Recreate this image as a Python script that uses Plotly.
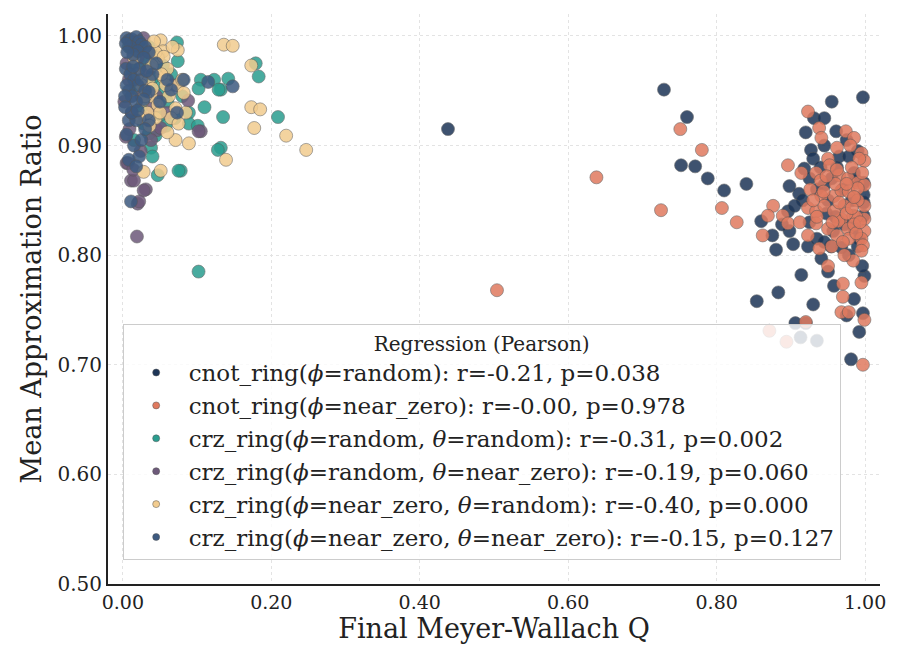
import plotly.graph_objects as go

# ---------------- data ----------------
names = [
    "cnot_ring(<i>ϕ</i>=random): r=-0.21, p=0.038",
    "cnot_ring(<i>ϕ</i>=near_zero): r=-0.00, p=0.978",
    "crz_ring(<i>ϕ</i>=random, <i>θ</i>=random): r=-0.31, p=0.002",
    "crz_ring(<i>ϕ</i>=random, <i>θ</i>=near_zero): r=-0.19, p=0.060",
    "crz_ring(<i>ϕ</i>=near_zero, <i>θ</i>=random): r=-0.40, p=0.000",
    "crz_ring(<i>ϕ</i>=near_zero, <i>θ</i>=near_zero): r=-0.15, p=0.127",
]
colors = ["#1d3557", "#e07a5f", "#2a9d8f", "#6d597a", "#f2cc8f", "#3d5a80"]

cnot_random_q = [0.438, 0.729, 0.760, 0.752, 0.771, 0.788, 0.810, 0.840, 0.997, 0.931,
                 0.961, 0.927, 0.930, 0.918, 0.945, 0.985, 0.998, 0.998, 0.998, 0.898,
                 0.911, 0.916, 0.860, 0.896, 0.898, 0.903, 0.923, 0.954, 0.968, 0.941,
                 0.914, 0.883, 0.854, 0.930, 0.906, 0.920, 0.999, 0.997, 0.958, 0.978,
                 0.981, 0.913, 0.935, 0.955, 0.945, 0.965, 0.975, 0.990, 0.950, 0.960,
                 0.985, 0.992, 0.970, 0.940, 0.905, 0.925, 0.996, 0.985, 0.975, 0.950,
                 0.992, 0.888, 0.875, 0.880, 0.935, 0.998, 0.982, 0.945, 0.920, 0.955,
                 0.962, 0.948, 0.972, 0.935, 0.988, 0.957, 0.925, 0.978, 0.990, 0.945]
cnot_random_r = [0.915, 0.951, 0.926, 0.882, 0.881, 0.870, 0.859, 0.865, 0.944, 0.925,
                 0.913, 0.896, 0.888, 0.879, 0.864, 0.875, 0.866, 0.848, 0.836, 0.863,
                 0.856, 0.850, 0.831, 0.840, 0.822, 0.810, 0.808, 0.808, 0.807, 0.797,
                 0.782, 0.766, 0.758, 0.755, 0.738, 0.738, 0.781, 0.747, 0.772, 0.800,
                 0.705, 0.725, 0.722, 0.940, 0.925, 0.890, 0.905, 0.895, 0.850, 0.835,
                 0.825, 0.815, 0.860, 0.880, 0.845, 0.870, 0.790, 0.760, 0.745, 0.785,
                 0.730, 0.828, 0.818, 0.805, 0.815, 0.855, 0.850, 0.900, 0.912, 0.870,
                 0.880, 0.838, 0.828, 0.860, 0.868, 0.822, 0.830, 0.890, 0.808, 0.812]

cnot_nz_q = [0.504, 0.638, 0.725, 0.751, 0.780, 0.807, 0.827, 0.923, 0.938, 0.941,
             0.974, 0.985, 0.896, 0.914, 0.934, 0.950, 0.952, 0.965, 0.995, 0.999,
             0.992, 0.977, 0.990, 0.999, 0.941, 0.958, 0.968, 0.978, 0.990, 0.876,
             0.869, 0.889, 0.896, 0.923, 0.934, 0.972, 0.999, 0.968, 0.984, 0.999,
             0.934, 0.950, 0.964, 0.977, 0.988, 0.999, 0.978, 0.995, 0.997, 0.995,
             0.923, 0.938, 0.862, 0.984, 0.950, 0.970, 0.995, 0.970, 0.968, 0.978,
             0.999, 0.920, 0.871, 0.894, 0.997, 0.960, 0.982, 0.945, 0.958, 0.975,
             0.990, 0.962, 0.985, 0.955, 0.972, 0.940, 0.926, 0.996, 0.980, 0.962,
             0.930, 0.912, 0.948, 0.965, 0.982, 0.956, 0.970, 0.988, 0.944, 0.975,
             0.962, 0.993, 0.935, 0.985]
cnot_nz_r = [0.768, 0.871, 0.841, 0.915, 0.896, 0.843, 0.830, 0.931, 0.916, 0.907,
             0.913, 0.907, 0.882, 0.875, 0.875, 0.888, 0.882, 0.873, 0.893, 0.886,
             0.888, 0.870, 0.866, 0.864, 0.854, 0.854, 0.859, 0.858, 0.861, 0.845,
             0.836, 0.836, 0.829, 0.843, 0.840, 0.845, 0.845, 0.833, 0.836, 0.833,
             0.829, 0.824, 0.831, 0.824, 0.835, 0.822, 0.815, 0.815, 0.809, 0.804,
             0.818, 0.806, 0.818, 0.795, 0.790, 0.774, 0.775, 0.762, 0.748, 0.748,
             0.741, 0.739, 0.731, 0.721, 0.700, 0.865, 0.880, 0.845, 0.840, 0.838,
             0.850, 0.818, 0.828, 0.808, 0.800, 0.868, 0.860, 0.875, 0.900, 0.898,
             0.850, 0.830, 0.872, 0.848, 0.843, 0.830, 0.812, 0.820, 0.858, 0.865,
             0.878, 0.830, 0.835, 0.853]

crz_rr_q = [0.102, 0.078, 0.179, 0.183, 0.142, 0.132, 0.135, 0.209, 0.132, 0.073,
            0.074, 0.054, 0.105, 0.123, 0.129, 0.102, 0.089, 0.089, 0.101, 0.038,
            0.040, 0.047, 0.075, 0.128, 0.044, 0.028, 0.051, 0.018, 0.035, 0.058,
            0.060, 0.045, 0.030, 0.020, 0.065, 0.040, 0.055, 0.012, 0.025, 0.070,
            0.015, 0.080, 0.035, 0.048, 0.008, 0.110]
crz_rr_r = [0.785, 0.877, 0.975, 0.963, 0.961, 0.951, 0.926, 0.926, 0.898, 0.994,
            0.977, 0.973, 0.960, 0.960, 0.951, 0.952, 0.930, 0.920, 0.918, 0.898,
            0.890, 0.873, 0.877, 0.896, 0.909, 0.920, 0.928, 0.952, 0.911, 0.918,
            0.940, 0.955, 0.975, 0.985, 0.965, 0.962, 0.948, 0.970, 0.935, 0.925,
            0.905, 0.945, 0.990, 0.982, 0.990, 0.935]

crz_rnz_q = [0.019, 0.031, 0.020, 0.011, 0.005, 0.004, 0.046, 0.105, 0.015, 0.028,
             0.022, 0.007, 0.051, 0.102, 0.088, 0.067, 0.034, 0.010, 0.015, 0.020,
             0.008, 0.025, 0.012, 0.030, 0.040, 0.005, 0.018, 0.035, 0.045, 0.060,
             0.009, 0.024, 0.014, 0.002, 0.028, 0.038]
crz_rnz_r = [0.817, 0.860, 0.847, 0.868, 0.884, 0.908, 0.914, 0.913, 0.868, 0.859,
             0.849, 0.884, 0.916, 0.913, 0.941, 0.955, 0.968, 0.995, 0.990, 0.980,
             0.960, 0.945, 0.930, 0.925, 0.935, 0.975, 0.965, 0.985, 0.945, 0.930,
             0.915, 0.895, 0.878, 0.940, 0.998, 0.905]

crz_nzr_q = [0.136, 0.148, 0.173, 0.173, 0.185, 0.177, 0.220, 0.247, 0.139, 0.051,
             0.074, 0.054, 0.047, 0.055, 0.074, 0.082, 0.038, 0.047, 0.071, 0.027,
             0.044, 0.065, 0.071, 0.089, 0.028, 0.051, 0.075, 0.044, 0.055, 0.039,
             0.030, 0.035, 0.060, 0.025, 0.040, 0.062, 0.050, 0.033, 0.020, 0.067,
             0.058, 0.036, 0.022, 0.060, 0.085, 0.015, 0.042, 0.030, 0.052, 0.080]
crz_nzr_r = [0.992, 0.991, 0.973, 0.935, 0.933, 0.916, 0.909, 0.896, 0.887, 0.996,
             0.987, 0.986, 0.980, 0.962, 0.955, 0.948, 0.945, 0.937, 0.934, 0.941,
             0.925, 0.925, 0.905, 0.902, 0.876, 0.877, 0.920, 0.985, 0.981, 0.973,
             0.990, 0.960, 0.970, 0.955, 0.952, 0.945, 0.930, 0.930, 0.965, 0.990,
             0.955, 0.918, 0.925, 0.912, 0.930, 0.980, 0.995, 0.945, 0.965, 0.960]

crz_nznz_q = [0.005, 0.008, 0.012, 0.015, 0.018, 0.022, 0.025, 0.010, 0.004, 0.030,
              0.020, 0.035, 0.014, 0.028, 0.006, 0.004, 0.010, 0.015, 0.020, 0.008,
              0.025, 0.030, 0.012, 0.018, 0.005, 0.022, 0.035, 0.028, 0.003, 0.014,
              0.040, 0.045, 0.032, 0.082, 0.065, 0.008, 0.018, 0.035, 0.073, 0.115,
              0.148, 0.011, 0.015, 0.022, 0.008, 0.018, 0.005, 0.025, 0.030, 0.012,
              0.050, 0.060, 0.003, 0.020]
crz_nznz_r = [0.998, 0.996, 0.997, 0.994, 0.999, 0.995, 0.992, 0.990, 0.993, 0.990,
              0.986, 0.985, 0.983, 0.980, 0.985, 0.970, 0.965, 0.960, 0.955, 0.950,
              0.960, 0.950, 0.945, 0.940, 0.955, 0.970, 0.949, 0.942, 0.945, 0.972,
              0.965, 0.975, 0.968, 0.960, 0.951, 0.923, 0.923, 0.923, 0.930, 0.958,
              0.954, 0.849, 0.900, 0.890, 0.887, 0.881, 0.910, 0.905, 0.915, 0.930,
              0.940, 0.960, 0.935, 0.932]

series_q = [cnot_random_q, cnot_nz_q, crz_rr_q, crz_rnz_q, crz_nzr_q, crz_nznz_q]
series_r = [cnot_random_r, cnot_nz_r, crz_rr_r, crz_rnz_r, crz_nzr_r, crz_nznz_r]

x_ticks = [0.0, 0.2, 0.4, 0.6, 0.8, 1.0]
y_ticks = [0.5, 0.6, 0.7, 0.8, 0.9, 1.0]

# ---------------- figure ----------------
FONT = "DejaVu Serif"
fig = go.Figure()

for q, r, c in zip(series_q, series_r, colors):
    fig.add_trace(go.Scatter(
        x=q, y=r, mode="markers", showlegend=False,
        marker=dict(size=13, color=c, opacity=0.85,
                    line=dict(color="#555555", width=0.6)),
    ))

# legend entries with small markers
for n, c in zip(names, colors):
    fig.add_trace(go.Scatter(
        x=[None], y=[None], mode="markers", name=n,
        marker=dict(size=7, color=c, line=dict(color="#555555", width=0.5)),
    ))

fig.update_layout(
    width=906, height=665,
    margin=dict(l=108, r=26, t=14, b=81),
    paper_bgcolor="white", plot_bgcolor="white",
    font=dict(family=FONT, color="#222222", size=18),
    legend=dict(
        title=dict(text="Regression (Pearson)", side="top center",
                   font=dict(family=FONT, size=20, color="#222222")),
        x=0.019, y=0.042, xanchor="left", yanchor="bottom",
        bgcolor="rgba(255,255,255,0.82)", bordercolor="#cccccc", borderwidth=1,
        font=dict(family=FONT, size=23, color="#222222"),
        itemwidth=55,
    ),
)
fig.update_xaxes(
    range=[-0.02, 1.02], tickvals=x_ticks, tickformat=".2f",
    showline=True, linecolor="#222222", linewidth=2, mirror=False,
    showgrid=True, gridcolor="#e3e3e3", griddash="dot", gridwidth=1,
    zeroline=False, ticks="", ticklen=0,
    tickfont=dict(family=FONT, size=19, color="#222222"),
    title=dict(text="Final Meyer-Wallach Q", font=dict(family=FONT, size=27, color="#222222"), standoff=6),
)
fig.update_yaxes(
    range=[0.5, 1.02], tickvals=y_ticks, tickformat=".2f",
    showline=True, linecolor="#222222", linewidth=2, mirror=False,
    showgrid=True, gridcolor="#e3e3e3", griddash="dot", gridwidth=1,
    zeroline=False, ticks="", ticklen=0,
    tickfont=dict(family=FONT, size=20, color="#222222"),
    title=dict(text="Mean Approximation Ratio", font=dict(family=FONT, size=27, color="#222222"), standoff=8),
)

fig.write_html("out.html")
